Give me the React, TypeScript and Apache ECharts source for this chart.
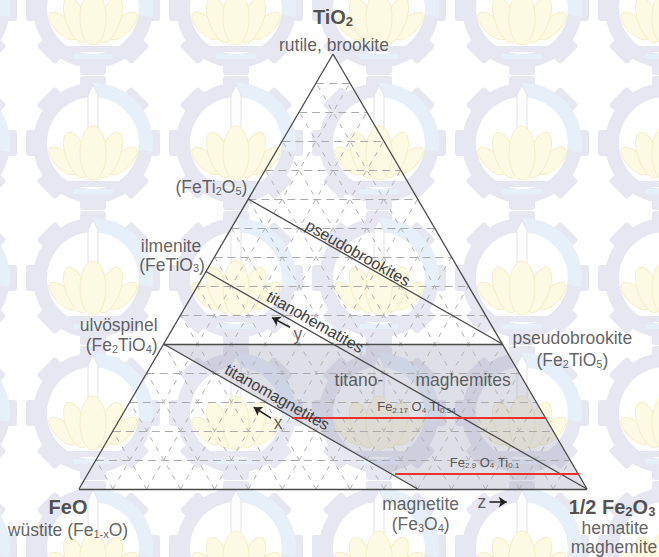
import React, { useEffect, useRef } from 'react';
import * as echarts from 'echarts';

// Ternary grid: number of divisions per side
const GRID_STEPS = 15;

// compositions as [TiO2 fraction, 1/2 Fe2O3 fraction]; FeO is the remainder
const PHASES: Record<string, [number, number]> = {
  TiO2: [1, 0],
  FeO: [0, 0],
  Fe2O3: [0, 1],
  FeTi2O5: [2 / 3, 0],
  FeTiO3: [1 / 2, 0],
  Fe2TiO4: [1 / 3, 0],
  Fe2TiO5: [1 / 3, 2 / 3],
  Fe3O4: [0, 2 / 3],
};

const OUTLINE: string[][] = [
  ['FeO', 'Fe2O3'],
  ['Fe2O3', 'TiO2'],
  ['TiO2', 'FeO'],
];
const SOLID_SERIES: string[][] = [
  ['FeTi2O5', 'Fe2TiO5'],
  ['FeTiO3', 'Fe2O3'],
  ['Fe2TiO4', 'Fe2TiO5'],
  ['Fe2TiO4', 'Fe3O4'],
];
const SHADED_REGION = ['Fe2TiO4', 'Fe2TiO5', 'Fe2O3', 'Fe3O4'];
const RED_LINES: [number, number][][] = [
  [[0.163, 0.338], [0.163, 0.838]],
  [[0.0345, 0.605], [0.0345, 0.967]],
];

const toXY = (c: [number, number]): [number, number] => [c[1] + c[0] / 2, c[0]];

const FONT = '"Liberation Sans", Arial, Helvetica, sans-serif';
const TXT = '#3a3a3a';

const RICH: any = {
  n: { fontSize: 17.5, lineHeight: 18, color: TXT, fontFamily: FONT },
  s: { fontSize: 11, lineHeight: 10, verticalAlign: 'bottom', color: TXT, fontFamily: FONT },
  b: { fontSize: 20, lineHeight: 22, fontWeight: 'bold', color: '#262626', fontFamily: FONT },
  bs: { fontSize: 13, lineHeight: 12, verticalAlign: 'bottom', fontWeight: 'bold', color: '#262626', fontFamily: FONT },
  r: { fontSize: 13, lineHeight: 15, color: '#333', fontFamily: FONT },
  rs: { fontSize: 8, lineHeight: 8, verticalAlign: 'bottom', color: '#333', fontFamily: FONT },
};

type Lab = { text: string; at: string | [number, number]; offset?: [number, number]; align?: string };

const LABELS: Lab[] = [
  { text: '{b|TiO}{bs|2}', at: 'TiO2', offset: [0, -37] },
  { text: '{n|rutile, brookite}', at: 'TiO2', offset: [1, -9] },
  { text: '{n|(FeTi}{s|2}{n|O}{s|5}{n|)}', at: 'FeTi2O5', offset: [-1, -12], align: 'right' },
  { text: '{n|ilmenite}', at: 'FeTiO3', offset: [-35, -26] },
  { text: '{n|(FeTiO}{s|3}{n|)}', at: 'FeTiO3', offset: [-34, -7] },
  { text: '{n|ulvöspinel}', at: 'Fe2TiO4', offset: [-45, -19] },
  { text: '{n|(Fe}{s|2}{n|TiO}{s|4}{n|)}', at: 'Fe2TiO4', offset: [-42, 1] },
  { text: '{n|pseudobrookite}', at: 'Fe2TiO5', offset: [70, -6] },
  { text: '{n|(Fe}{s|2}{n|TiO}{s|5}{n|)}', at: 'Fe2TiO5', offset: [70, 16] },
  { text: '{b|FeO}', at: 'FeO', offset: [-11, 18] },
  { text: '{n|wüstite (Fe}{s|1-x}{n|O)}', at: 'FeO', offset: [-11, 41] },
  { text: '{n|magnetite}', at: 'Fe3O4', offset: [3, 15] },
  { text: '{n|(Fe}{s|3}{n|O}{s|4}{n|)}', at: 'Fe3O4', offset: [3, 35] },
  { text: '{b|1/2 Fe}{bs|2}{b|O}{bs|3}', at: 'Fe2O3', offset: [25, 18] },
  { text: '{n|hematite}', at: 'Fe2O3', offset: [28, 39] },
  { text: '{n|maghemite}', at: 'Fe2O3', offset: [27, 58] },
  { text: '{n|titano-}', at: [0.551, 0.251] },
  { text: '{n|maghemites}', at: [0.756, 0.251] },
  { text: '{r|Fe}{rs|2.17}{r| O}{rs|4}{r| Ti}{rs|0.54}', at: [0.587, 0.189], align: 'left' },
  { text: '{r|Fe}{rs|2.9}{r| O}{rs|4}{r| Ti}{rs|0.1}', at: [0.73, 0.062], align: 'left' },
  { text: '{n|y}', at: [0.431, 0.356] },
  { text: '{n|x}', at: [0.392, 0.152] },
  { text: '{n|z}', at: [0.793, -0.03] },
];

// series names written along their lines (centre in data coords, angle in degrees)
const LINE_LABELS: { text: string; at: [number, number]; angle: number }[] = [
  { text: 'pseudobrookites', at: [0.549, 0.5425], angle: -29.7 },
  { text: 'titanohematites', at: [0.465, 0.384], angle: -29.7 },
  { text: 'titanomagnetites', at: [0.39, 0.2115], angle: -29.7 },
];

const ARROWS: [number, number][][] = [
  [[0.415, 0.372], [0.38, 0.394]],
  [[0.378, 0.163], [0.344, 0.188]],
  [[0.808, -0.03], [0.842, -0.03]],
];

// watermark layout
const WM_X = [-50, 93, 236, 379, 522, 665];
const WM_Y = [8, 143, 278, 413, 548];
const LAV = '#e7e7f1';
const BLUE = '#e7f0f9';
const YEL = '#fdfae4';
const YEL_S = '#f5eec8';

function petal(x: number, y: number, rx: number, ry: number, rot: number) {
  return {
    type: 'group', x, y, rotation: rot,
    children: [{ type: 'ellipse', shape: { cx: 0, cy: 0, rx, ry }, style: { fill: YEL, stroke: YEL_S, lineWidth: 1 } }],
  };
}

function logo(cx: number, cy: number) {
  const teeth = Array.from({ length: 8 }, (_, k) => ({
    type: 'rect',
    rotation: (k * Math.PI) / 4,
    shape: { x: -13, y: -67, width: 26, height: 14, r: 3 },
    style: { fill: LAV },
  }));
  return {
    type: 'group', x: cx, y: cy, silent: true, z: 0,
    children: [
      ...teeth,
      { type: 'ring', shape: { cx: 0, cy: 0, r: 60, r0: 46 }, style: { fill: LAV } },
      { type: 'sector', shape: { cx: 0, cy: 0, r: 60, r0: 46, startAngle: -Math.PI / 2, endAngle: 0.15 }, style: { fill: BLUE } },
      { type: 'polygon', shape: { points: [[-5, -48], [0, -58], [5, -48], [5, 20], [-5, 20]] }, style: { fill: '#fdfdfd', stroke: '#e2e2eb', lineWidth: 1 } },
      petal(-30, 18, 8, 18, 0.8),
      petal(30, 18, 8, 18, -0.8),
      petal(-17, 12, 10, 24, 0.35),
      petal(17, 12, 10, 24, -0.35),
      petal(0, 10, 13, 27, 0),
      { type: 'rect', shape: { x: -28, y: 38, width: 56, height: 6, r: 2 }, style: { fill: LAV } },
      { type: 'rect', shape: { x: -20, y: 46, width: 40, height: 5, r: 2 }, style: { fill: BLUE } },
    ],
  };
}

export default function App() {
  const ref = useRef<HTMLDivElement>(null);
  useEffect(() => {
    if (!ref.current) return;
    const chart = echarts.init(ref.current, undefined, { renderer: 'svg' });

    const steps = Array.from({ length: GRID_STEPS - 1 }, (_, i) => (i + 1) / GRID_STEPS);
    const horiz = steps.map((t) => ({ coords: [toXY([t, 0]), toXY([t, 1 - t])] }));
    const diag = steps.flatMap((t) => [
      { coords: [toXY([0, t]), toXY([1 - t, t])] },
      { coords: [toXY([0, 1 - t]), toXY([1 - t, 0])] },
    ]);
    const solid = [...OUTLINE, ...SOLID_SERIES].map(([a, b]) => ({ coords: [toXY(PHASES[a]), toXY(PHASES[b])] }));
    const red = RED_LINES.map(([a, b]) => ({ coords: [toXY(a), toXY(b)] }));
    const arrows = ARROWS.map(([a, b]) => ({ coords: [a, b] }));

    const labelData = LABELS.map((l) => {
      const pos = typeof l.at === 'string' ? toXY(PHASES[l.at]) : l.at;
      const lab: any = { offset: l.offset || [0, 0] };
      if (l.align) lab.align = l.align;
      return { name: l.text, value: pos, label: lab };
    });

    const watermark: any[] = [];
    WM_Y.forEach((y) => WM_X.forEach((x) => watermark.push(logo(x, y))));

    chart.setOption({
      animation: false,
      backgroundColor: '#ffffff',
      graphic: { elements: watermark },
      grid: { left: 79, right: 72, top: 54, bottom: 68 },
      xAxis: { type: 'value', min: 0, max: 1, show: false },
      yAxis: { type: 'value', min: 0, max: 1, show: false },
      series: [
        {
          type: 'custom',
          z: 2,
          silent: true,
          clip: false,
          data: [[0.5, 0.5]],
          renderItem: (_p: any, api: any) => ({
            type: 'polygon',
            shape: { points: SHADED_REGION.map((n) => api.coord(toXY(PHASES[n]))) },
            style: { fill: 'rgba(150,150,175,0.3)' },
          }),
        },
        {
          type: 'lines', coordinateSystem: 'cartesian2d', z: 3, silent: true, clip: false,
          data: horiz,
          lineStyle: { color: '#ababab', width: 1, type: [8, 5], opacity: 1 },
        },
        {
          type: 'lines', coordinateSystem: 'cartesian2d', z: 3, silent: true, clip: false,
          data: diag,
          lineStyle: { color: '#b2b2b2', width: 1, type: [5, 6], opacity: 1 },
        },
        {
          type: 'lines', coordinateSystem: 'cartesian2d', z: 5, silent: true, clip: false,
          data: solid,
          lineStyle: { color: '#4a4a4a', width: 1.3, opacity: 1 },
        },
        {
          type: 'lines', coordinateSystem: 'cartesian2d', z: 6, silent: true, clip: false,
          data: red,
          lineStyle: { color: '#e8322e', width: 2, opacity: 1 },
        },
        {
          type: 'lines', coordinateSystem: 'cartesian2d', z: 7, silent: true, clip: false,
          data: arrows,
          symbol: ['none', 'arrow'],
          symbolSize: 8,
          lineStyle: { color: '#222', width: 1.6, opacity: 1 },
        },
        {
          type: 'scatter', z: 8, silent: true, clip: false,
          symbolSize: 1,
          itemStyle: { color: 'rgba(0,0,0,0)' },
          data: labelData,
          label: {
            show: true,
            position: 'inside',
            formatter: (p: any) => p.name,
            rich: RICH,
            fontFamily: FONT,
          },
        },
      ],
    });

    // rotated series names, placed through the grid's own scale
    const lineTexts = LINE_LABELS.map((l) => {
      const [px, py] = chart.convertToPixel({ gridIndex: 0 }, l.at) as number[];
      return {
        type: 'text',
        x: px,
        y: py,
        rotation: (l.angle * Math.PI) / 180,
        z: 20,
        silent: true,
        style: {
          text: l.text,
          font: `16px ${FONT}`,
          fill: '#404040',
          align: 'center',
          verticalAlign: 'middle',
        },
      };
    });
    chart.setOption({ graphic: { elements: [...watermark, ...lineTexts] } });

    return () => chart.dispose();
  }, []);
  return <div ref={ref} style={{ position: 'absolute', left: 0, top: 0, width: 659, height: 557 }} />;
}
